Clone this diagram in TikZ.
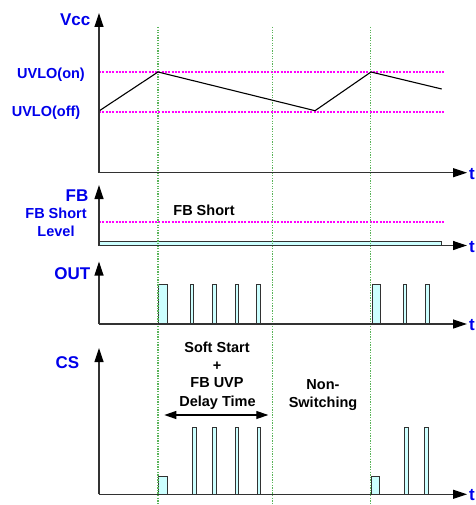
\documentclass[tikz,border=0pt]{standalone}
\usepackage{fontspec}
\setmainfont{Liberation Sans}
\usetikzlibrary{arrows.meta}
\definecolor{lblblue}{RGB}{0,0,235}
\definecolor{axgray}{RGB}{50,50,50}
\definecolor{pulsefill}{RGB}{204,255,255}
\definecolor{grn}{RGB}{90,180,90}
\definecolor{vmag}{RGB}{255,0,255}
\tikzset{
  axis/.style={draw=axgray, line width=1.2pt, -{Triangle[length=14pt,width=9pt,fill=black,color=black]}},
  biglbl/.style={text=lblblue, font=\bfseries\fontsize{17}{20}\selectfont, inner sep=0pt, anchor=base east},
  smlbl/.style={text=lblblue, font=\bfseries\fontsize{14.5}{17}\selectfont, inner sep=0pt},
  txt/.style={text=black, font=\bfseries\fontsize{14.5}{17}\selectfont, inner sep=0pt, anchor=base},
  tlbl/.style={text=lblblue, font=\bfseries\fontsize{17}{20}\selectfont, inner sep=0pt, anchor=base west},
  pulse/.style={draw=axgray, fill=pulsefill, line width=0.9pt},
  gline/.style={draw=grn, line width=1.3pt, dash pattern=on 1.3pt off 1.3pt},
  mline/.style={draw=vmag, line width=1.2pt, dash pattern=on 2pt off 1.3pt},
  wave/.style={draw=black, line width=1.1pt},
  dim/.style={draw=black, line width=1.1pt, {Triangle[length=12pt,width=8pt]}-{Triangle[length=12pt,width=8pt]}}
}
\begin{document}
\begin{tikzpicture}[x=1pt,y=-1pt]
\useasboundingbox (0,0) rectangle (475,505);

% coordinates
\coordinate (g1t) at (158,27);   \coordinate (g1b) at (158,505);
\coordinate (g2t) at (272.7,27); \coordinate (g2b) at (272.7,505);
\coordinate (g3t) at (370.7,27); \coordinate (g3b) at (370.7,505);

% magenta levels
\coordinate (mfb1) at (99,222);   \coordinate (mfb2) at (444,222);
\coordinate (mon1) at (99,72);  \coordinate (mon2) at (444,72);
\coordinate (moff1) at (99,112); \coordinate (moff2) at (444,112);
\draw[mline] (mfb1) -- (mfb2);
\draw[mline] (mon1) -- (mon2);
\draw[mline] (moff1) -- (moff2);

% FB bar
\coordinate (fb1) at (99,241.3); \coordinate (fb2) at (441.7,245.7);
\draw[pulse] (fb1) rectangle (fb2);

% OUT pulses
\foreach \a/\b [count=\i] in {158.7/167.3, 190/193.4, 212.7/216, 235.3/238.7, 256.8/260.3, 372/380.3, 403/406.4, 425.8/429.3}{
  \coordinate (o\i a) at (\a,284); \coordinate (o\i b) at (\b,324);
  \draw[pulse] (o\i a) rectangle (o\i b);
}
% CS pulses
\foreach \a/\b/\h [count=\i] in {158.7/167.3/476, 192.7/196/427.3, 212.7/216/427.3, 235.3/238.7/427.3, 257/260.3/427.3, 371/379.3/476, 404.7/408.3/427.3, 424.7/428.3/427.3}{
  \coordinate (c\i a) at (\a,\h); \coordinate (c\i b) at (\b,494);
  \draw[pulse] (c\i a) rectangle (c\i b);
}

% green markers
\draw[gline] (g1t) -- (g1b);
\draw[gline] (g2t) -- (g2b);
\draw[gline] (g3t) -- (g3b);

% Vcc waveform
\coordinate (v0) at (99,111); \coordinate (v1) at (158,72);
\coordinate (v2) at (315,110.7); \coordinate (v3) at (371,72);
\coordinate (v4) at (441.7,89);
\draw[wave] (v0) -- (v1) -- (v2) -- (v3) -- (v4);

% axes
\coordinate (o1) at (99,172.7); \coordinate (y1) at (99,13); \coordinate (x1) at (467,172.7);
\coordinate (o2) at (99,245.5); \coordinate (y2) at (99,185); \coordinate (x2) at (467,245.5);
\coordinate (o3) at (99,324);   \coordinate (y3) at (99,261.5); \coordinate (x3) at (467,324);
\coordinate (o4) at (99,494.3); \coordinate (y4) at (99,348); \coordinate (x4) at (467,494.3);
\draw[axis] (o1) -- (y1); \draw[axis] (o1) -- (x1);
\draw[axis] (o2) -- (y2); \draw[axis] (o2) -- (x2);
\draw[axis] (o3) -- (y3); \draw[axis] (o3) -- (x3);
\draw[axis] (o4) -- (y4); \draw[axis] (o4) -- (x4);

% dimension arrow
\coordinate (d1) at (164.3,415); \coordinate (d2) at (268.3,415);
\draw[dim] (d1) -- (d2);

% labels
\node[biglbl] (lvcc) at (90.5,26) {Vcc};
\node[smlbl, anchor=base east] (lon) at (85,79) {UVLO(on)};
\node[smlbl, anchor=base east] (loff) at (80.5,117) {UVLO(off)};
\node[biglbl] (lfb) at (88.5,201) {FB};
\node[smlbl, anchor=base] (lfbs1) at (56,218) {FB Short};
\node[smlbl, anchor=base] (lfbs2) at (56,236) {Level};
\node[biglbl] (lout) at (90.5,279) {OUT};
\node[biglbl] (lcs) at (79.5,368) {CS};

\node[txt] (tfbs) at (204,215) {FB Short};
\node[txt] (ts1) at (217,352.5) {Soft Start};
\node[txt] (ts2) at (217,370) {+};
\node[txt] (ts3) at (217,387.5) {FB UVP};
\node[txt] (ts4) at (217.5,406) {Delay Time};
\node[txt] (tn1) at (323,389) {Non-};
\node[txt] (tn2) at (323,407) {Switching};

\node[tlbl] (t1) at (469,179) {t};
\node[tlbl] (t2) at (469,252) {t};
\node[tlbl] (t3) at (469,330.5) {t};
\node[tlbl] (t4) at (469,500.5) {t};
\end{tikzpicture}
\end{document}
